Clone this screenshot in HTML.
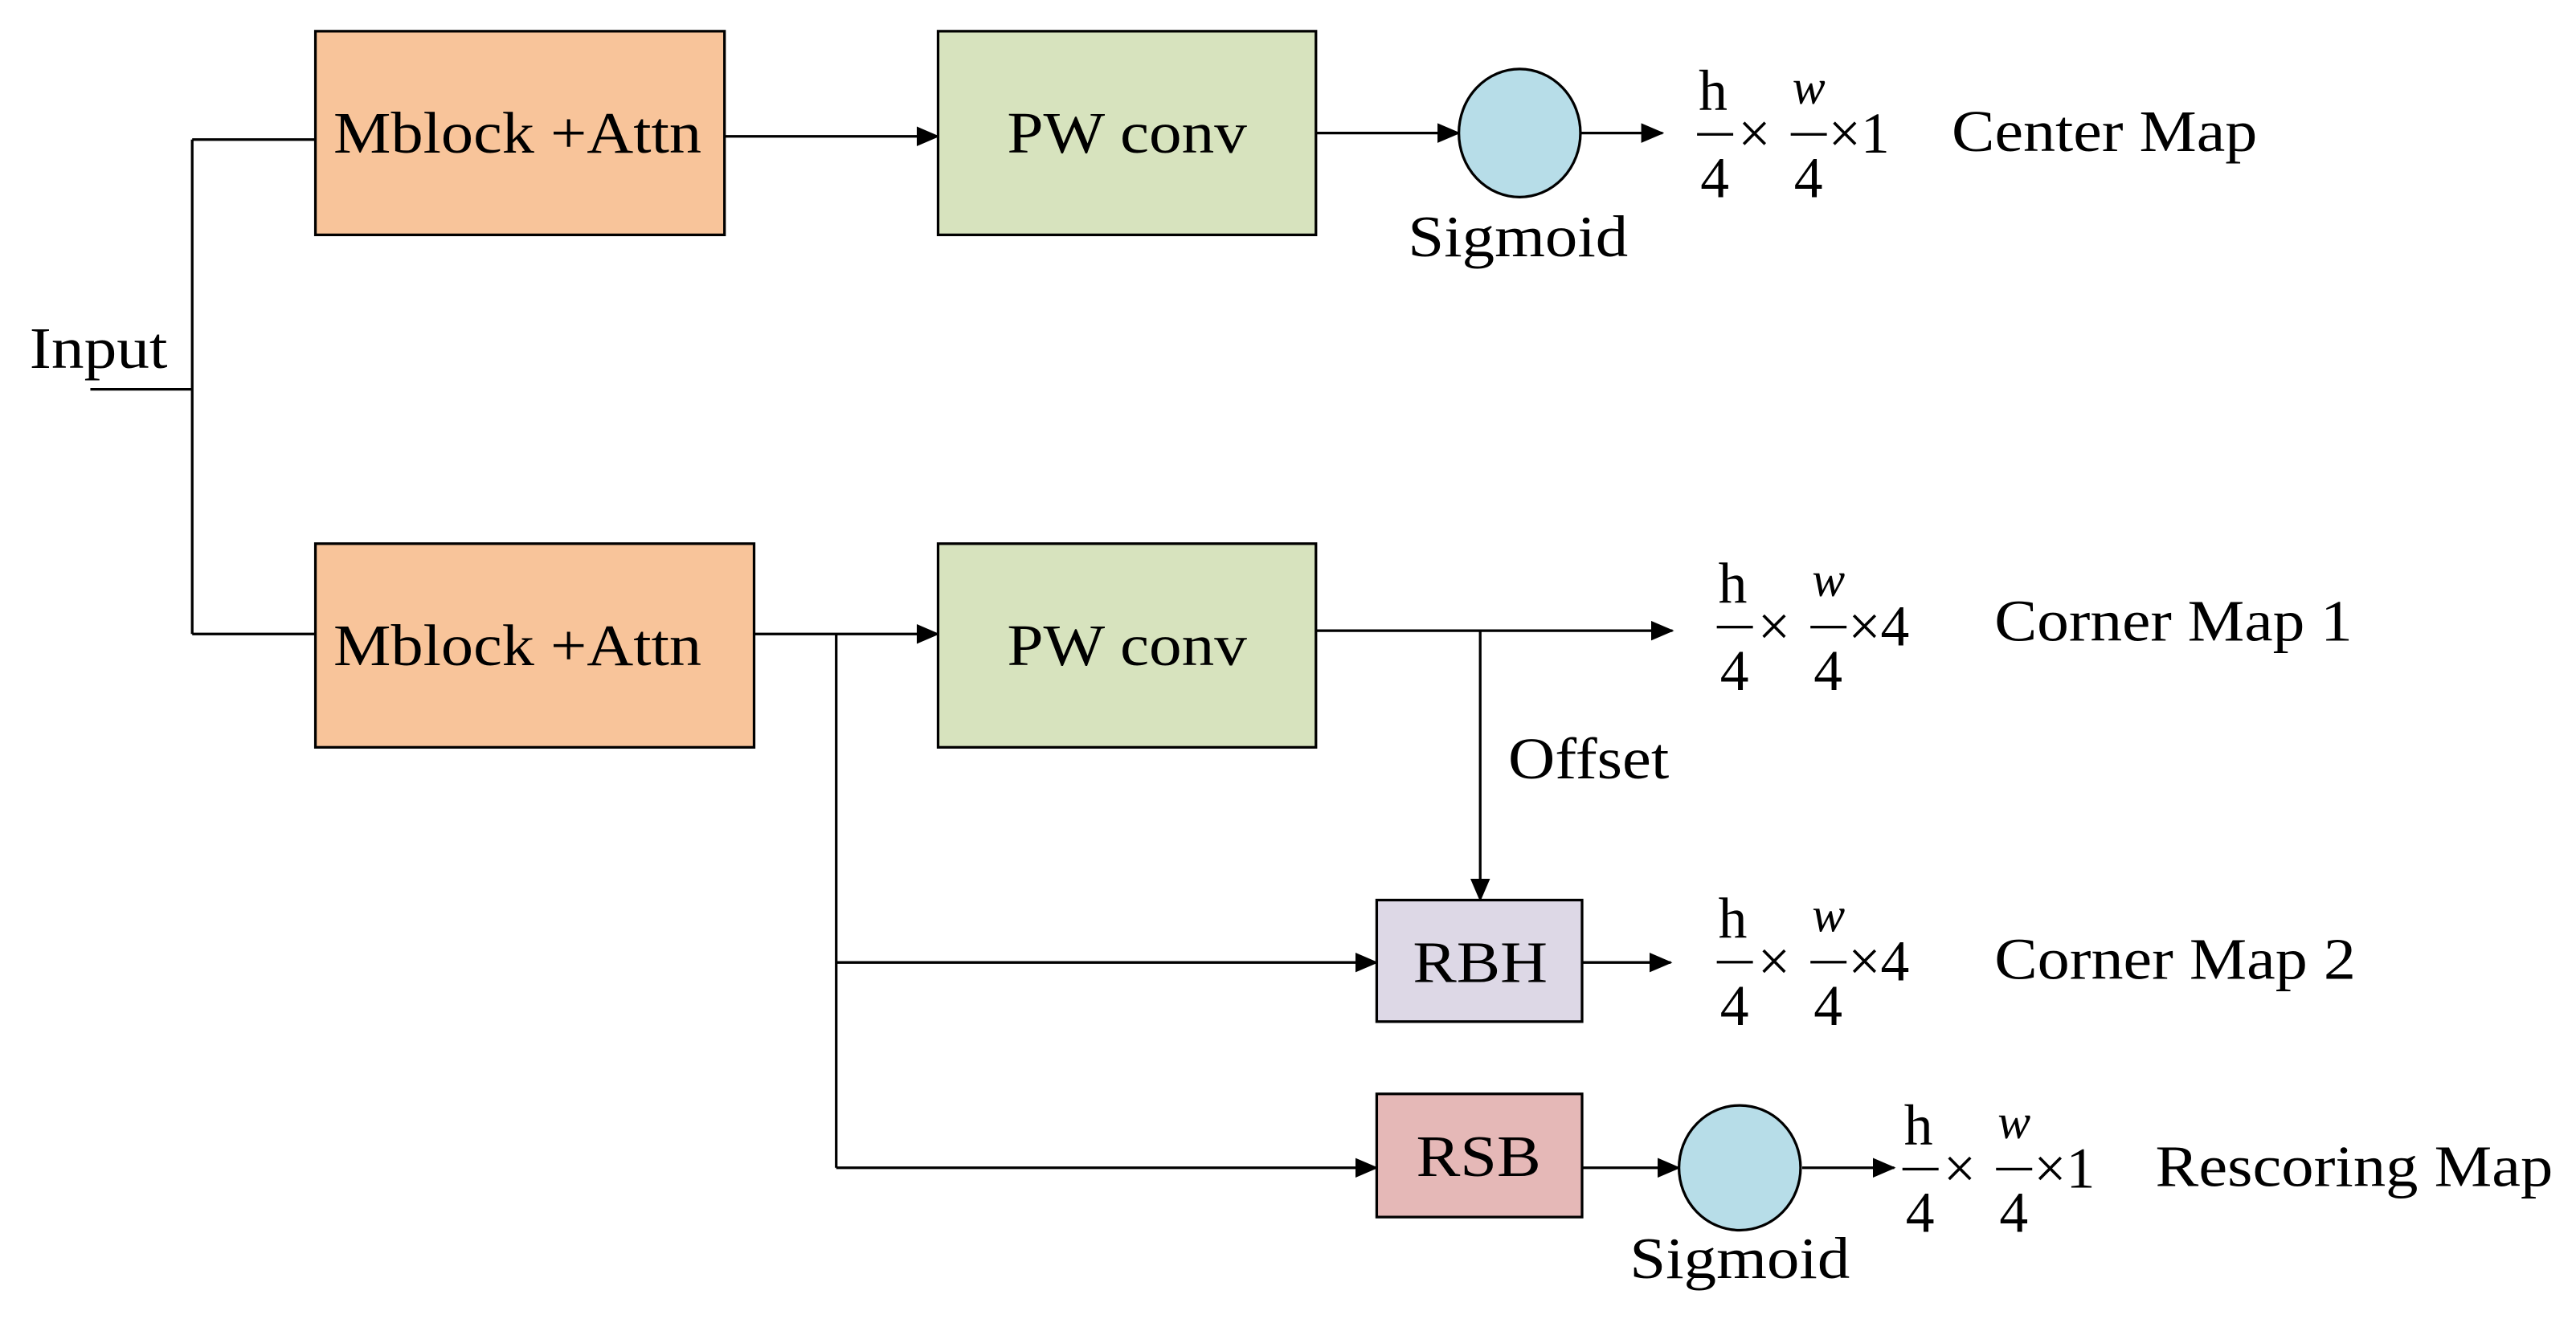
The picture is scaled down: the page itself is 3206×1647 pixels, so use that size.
<!DOCTYPE html>
<html><head><meta charset="utf-8"><style>
html,body{margin:0;padding:0;background:#fff}
svg{display:block}
text{font-family:"Liberation Serif",serif;fill:#000}
</style></head><body>
<svg width="3206" height="1647" viewBox="0 0 1568 805.5" preserveAspectRatio="none" xmlns="http://www.w3.org/2000/svg">
<defs>
<marker id="b" markerWidth="14" markerHeight="12" refX="13" refY="6" orient="auto" markerUnits="userSpaceOnUse"><path d="M0,0 L14,6 L0,12 z" fill="#000"/></marker></defs>
<g stroke="#000" stroke-width="1.6" fill="none">
<path d="M55,237 H117 M117,85 V386 M117,85 H192 M117,386 H192"/>
<path d="M441,83 H571" marker-end="url(#b)"/>
<path d="M801,81 H888" marker-end="url(#b)"/>
<path d="M962,81 H1012" marker-end="url(#b)"/>
<path d="M459,386 H571" marker-end="url(#b)"/>
<path d="M509,386 V711"/>
<path d="M509,586 H838" marker-end="url(#b)"/>
<path d="M509,711 H838" marker-end="url(#b)"/>
<path d="M801,384 H1018" marker-end="url(#b)"/>
<path d="M901,384 V548" marker-end="url(#b)"/>
<path d="M963,586 H1017" marker-end="url(#b)"/>
<path d="M963,711 H1022" marker-end="url(#b)"/>
<path d="M1097,711 H1153" marker-end="url(#b)"/>
</g>
<g stroke="#000" stroke-width="1.6">
<rect x="192" y="19" width="249" height="124" fill="#F8C49A"/>
<rect x="192" y="331" width="267" height="124" fill="#F8C49A"/>
<rect x="571" y="19" width="230" height="124" fill="#D7E3BE"/>
<rect x="571" y="331" width="230" height="124" fill="#D7E3BE"/>
<rect x="838" y="548" width="125" height="74" fill="#DDD8E6"/>
<rect x="838" y="666" width="125" height="75" fill="#E5B8B7"/>
<ellipse cx="925" cy="81" rx="37" ry="39" fill="#B7DDE8"/>
<ellipse cx="1059" cy="711" rx="37" ry="38" fill="#B7DDE8"/>
</g>
<g font-size="36">
<text x="203" y="93" textLength="224" lengthAdjust="spacingAndGlyphs">Mblock +Attn</text>
<text x="203" y="405" textLength="224" lengthAdjust="spacingAndGlyphs">Mblock +Attn</text>
<text x="613" y="93" textLength="146" lengthAdjust="spacingAndGlyphs">PW conv</text>
<text x="613" y="405" textLength="146" lengthAdjust="spacingAndGlyphs">PW conv</text>
<text x="860" y="598" textLength="82" lengthAdjust="spacingAndGlyphs">RBH</text>
<text x="862" y="716" textLength="76" lengthAdjust="spacingAndGlyphs">RSB</text>
<text x="18" y="224" textLength="84" lengthAdjust="spacingAndGlyphs">Input</text>
<text x="857" y="156" textLength="134" lengthAdjust="spacingAndGlyphs">Sigmoid</text>
<text x="992" y="778" textLength="134" lengthAdjust="spacingAndGlyphs">Sigmoid</text>
<text x="918" y="474" textLength="98" lengthAdjust="spacingAndGlyphs">Offset</text>
<text x="1188" y="92" textLength="186" lengthAdjust="spacingAndGlyphs">Center Map</text>
<text x="1214" y="390" textLength="218" lengthAdjust="spacingAndGlyphs">Corner Map 1</text>
<text x="1214" y="596" textLength="220" lengthAdjust="spacingAndGlyphs">Corner Map 2</text>
<text x="1312" y="722" textLength="242" lengthAdjust="spacingAndGlyphs">Rescoring Map</text>
</g>
<g font-size="35" stroke="none">
<g transform="translate(1033,81)">
<text x="1" y="-14">h</text><rect x="0" y="0" width="22" height="1.6"/><text x="2" y="39">4</text>
<text x="25" y="12">×</text>
<text x="58" y="-18" font-style="italic" font-size="30">w</text><rect x="57" y="0" width="22" height="1.6"/><text x="59" y="39">4</text>
<text x="80" y="12">×1</text></g>
<g transform="translate(1045,381)">
<text x="1" y="-14">h</text><rect x="0" y="0" width="22" height="1.6"/><text x="2" y="39">4</text>
<text x="25" y="12">×</text>
<text x="58" y="-18" font-style="italic" font-size="30">w</text><rect x="57" y="0" width="22" height="1.6"/><text x="59" y="39">4</text>
<text x="80" y="12">×4</text></g>
<g transform="translate(1045,585)">
<text x="1" y="-14">h</text><rect x="0" y="0" width="22" height="1.6"/><text x="2" y="39">4</text>
<text x="25" y="12">×</text>
<text x="58" y="-18" font-style="italic" font-size="30">w</text><rect x="57" y="0" width="22" height="1.6"/><text x="59" y="39">4</text>
<text x="80" y="12">×4</text></g>
<g transform="translate(1158,711)">
<text x="1" y="-14">h</text><rect x="0" y="0" width="22" height="1.6"/><text x="2" y="39">4</text>
<text x="25" y="12">×</text>
<text x="58" y="-18" font-style="italic" font-size="30">w</text><rect x="57" y="0" width="22" height="1.6"/><text x="59" y="39">4</text>
<text x="80" y="12">×1</text></g>
</g>
</svg>
</body></html>
